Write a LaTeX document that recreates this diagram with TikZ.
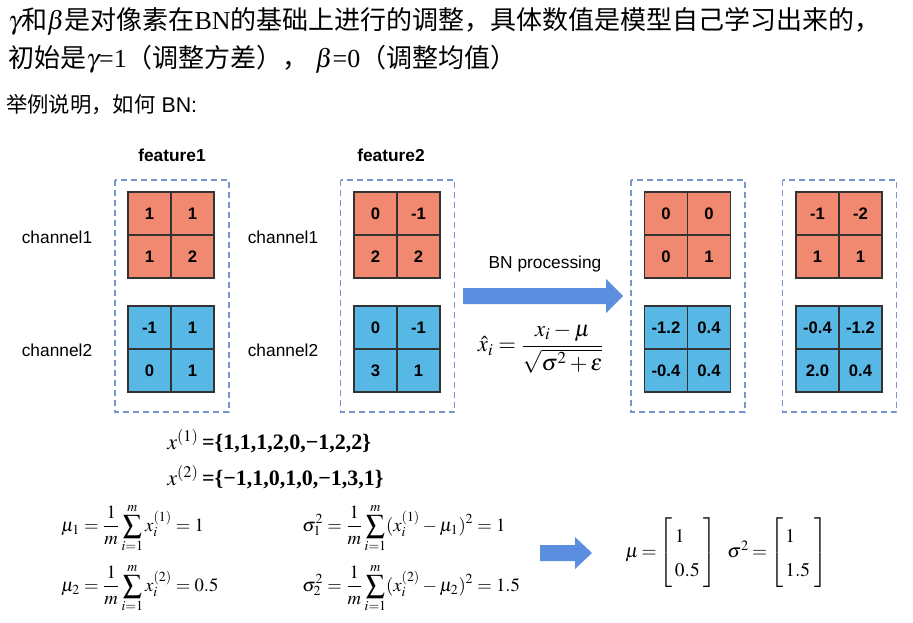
\documentclass[tikz,border=0pt]{standalone}
\usepackage{mathptmx}
\usepackage{fontspec}
\setmainfont{Liberation Serif}
\setsansfont{Liberation Sans}
\newfontfamily\cjk{Noto Sans CJK SC}
\definecolor{cellred}{RGB}{241,137,112}
\definecolor{cellblue}{RGB}{87,183,229}
\definecolor{boxblue}{RGB}{118,150,205}
\definecolor{arrowblue}{RGB}{91,142,222}
\begin{document}
\begin{tikzpicture}[x=0.75pt, y=-0.75pt,
    cell/.style={draw=black!80, line width=0.8pt, minimum size=32.25pt, inner sep=0pt, font=\sffamily\bfseries\fontsize{12.5}{14}\selectfont},
    redcell/.style={cell, fill=cellred},
    bluecell/.style={cell, fill=cellblue},
    dashbox/.style={draw=boxblue, line width=0.9pt, dash pattern=on 4.5pt off 3pt},
    chlabel/.style={font=\sffamily\fontsize{13}{16}\selectfont, inner sep=0pt},
    formula/.style={font=\fontsize{14}{17}\selectfont, inner sep=0pt, anchor=west}]
    \useasboundingbox (0,0) rectangle (913,622);

    % heading text
    \node[anchor=west, inner sep=0pt, font=\fontsize{19.5}{24}\selectfont] (line1) at (8,21)
        {$\gamma${\cjk 和}$\beta${\cjk 是对像素在}BN{\cjk 的基础上进行的调整，具体数值是模型自己学习出来的，}};
    \node[anchor=west, inner sep=0pt, font=\fontsize{19.5}{24}\selectfont] (line2) at (8,59)
        {{\cjk 初始是}$\gamma$=1{\cjk （调整方差），} $\beta$=0{\cjk （调整均值）}};
    \node[anchor=west, inner sep=0pt, font=\sffamily\fontsize{16}{19}\selectfont] (line3) at (6,105)
        {{\cjk 举例说明，如何} BN:};

    % dashed frames
    \foreach \cx in {172,397.5,688,839.5}
        \draw[dashbox] (\cx-57,180) rectangle (\cx+57,412);

    % 2x2 grids
    \foreach \g/\cx/\cy/\st/\a/\b/\c/\d in {
        fa/171/235/redcell/1/1/1/2,   fb/171/349/bluecell/-1/1/0/1,
        ga/397/235/redcell/0/-1/2/2,  gb/397/349/bluecell/0/-1/3/1,
        na/687.5/235/redcell/0/0/0/1, nb/687.5/349/bluecell/-1.2/0.4/-0.4/0.4,
        ma/839/235/redcell/-1/-2/1/1, mb/839/349/bluecell/-0.4/-1.2/2.0/0.4}{
        \node[\st] (\g11) at (\cx-21.5,\cy-21.5) {\a};
        \node[\st] (\g12) at (\cx+21.5,\cy-21.5) {\b};
        \node[\st] (\g21) at (\cx-21.5,\cy+21.5) {\c};
        \node[\st] (\g22) at (\cx+21.5,\cy+21.5) {\d};
    }

    \node[font=\sffamily\bfseries\fontsize{13}{16}\selectfont] (feat1) at (172,155) {feature1};
    \node[font=\sffamily\bfseries\fontsize{13}{16}\selectfont] (feat2) at (391,155) {feature2};
    \node[chlabel] (ch1a) at (57,237) {channel1};
    \node[chlabel] (ch2a) at (57,350) {channel2};
    \node[chlabel] (ch1b) at (283,237) {channel1};
    \node[chlabel] (ch2b) at (283,350) {channel2};

    % BN step
    \node[chlabel] (bnlabel) at (545,264) {BN processing};
    \fill[arrowblue] (463,288) -- (606,288) -- (606,279) -- (623,296) -- (606,313) -- (606,304) -- (463,304) -- cycle;
    \node[font=\fontsize{17}{20}\selectfont, inner sep=0pt] (norm) at (541,348)
        {$\displaystyle\hat{x}_i=\frac{x_i-\mu}{\sqrt{\sigma^2+\varepsilon}}$};

    % inputs per channel
    \node[formula, font=\fontsize{16.5}{19}\selectfont] (xone) at (167,441) {$x^{(1)}$\,\textbf{=\{1,1,1,2,0,−1,2,2\}}};
    \node[formula, font=\fontsize{16.5}{19}\selectfont] (xtwo) at (167,477) {$x^{(2)}$\,\textbf{=\{−1,1,0,1,0,−1,3,1\}}};

    % mean and variance
    \node[formula] (muone) at (61,528) {$\displaystyle\mu_1=\frac{1}{m}\sum_{i=1}^{m}x_i^{(1)}=1$};
    \node[formula] (mutwo) at (61,588) {$\displaystyle\mu_2=\frac{1}{m}\sum_{i=1}^{m}x_i^{(2)}=0.5$};
    \node[formula] (sgone) at (302,528) {$\displaystyle\sigma_1^2=\frac{1}{m}\sum_{i=1}^{m}(x_i^{(1)}-\mu_1)^2=1$};
    \node[formula] (sgtwo) at (302,588) {$\displaystyle\sigma_2^2=\frac{1}{m}\sum_{i=1}^{m}(x_i^{(2)}-\mu_2)^2=1.5$};

    \fill[arrowblue] (540,545) -- (575,545) -- (575,537) -- (592,553) -- (575,569) -- (575,561) -- (540,561) -- cycle;
    \node[formula, font=\fontsize{14.5}{17}\selectfont] (muvec) at (625,553)
        {\renewcommand{\arraystretch}{1.5}$\mu\mskip3mu{=}\mskip1mu\left[\begin{array}{@{\,}l@{\;}}1\\0.5\end{array}\right]$};
    \node[formula, font=\fontsize{14.5}{17}\selectfont] (sgvec) at (727,553)
        {\renewcommand{\arraystretch}{1.5}$\sigma^2\mskip3mu{=}\mskip1mu\left[\begin{array}{@{\,}l@{\;}}1\\1.5\end{array}\right]$};
\end{tikzpicture}
\end{document}
